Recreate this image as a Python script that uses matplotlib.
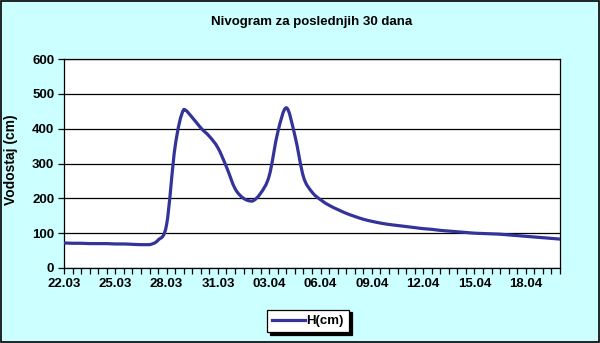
import numpy as np
import matplotlib.pyplot as plt
from matplotlib.path import Path
from matplotlib.patches import PathPatch
from matplotlib.lines import Line2D

plt.rcParams['font.family'] = ['Liberation Sans', 'DejaVu Sans']

# water level every 12 hours, 22.03 .. 20.04
levels = [72, 71, 71, 70, 70, 70, 69, 69, 68, 67,
          67, 80, 125, 350, 455, 432, 402, 378, 345, 290,
          228, 200, 192, 215, 265, 390, 460, 380, 262, 218,
          196, 180, 168, 157, 148, 140, 134, 129, 125, 122,
          119, 116, 113, 111, 108, 106, 104, 102, 100, 99,
          98, 97, 95, 93, 91, 89, 87, 85, 83]
tick_labels = ['22.03', '25.03', '28.03', '31.03', '03.04',
               '06.04', '09.04', '12.04', '15.04', '18.04']
legend_label = 'H(cm)'

line_color = '#333399'
bg_color = '#CCFFFF'


def smooth_path(x, y, t=1/6):
    # smoothed line through the points, control points kept inside each segment
    verts = [(x[0], y[0])]
    codes = [Path.MOVETO]
    n = len(x)
    for i in range(n - 1):
        x0, y0 = x[max(i - 1, 0)], y[max(i - 1, 0)]
        x1, y1 = x[i], y[i]
        x2, y2 = x[i + 1], y[i + 1]
        x3, y3 = x[min(i + 2, n - 1)], y[min(i + 2, n - 1)]
        lo, hi = min(y1, y2), max(y1, y2)
        c1 = (x1 + (x2 - x0) * t, np.clip(y1 + (y2 - y0) * t, lo, hi))
        c2 = (x2 - (x3 - x1) * t, np.clip(y2 - (y3 - y1) * t, lo, hi))
        verts += [c1, c2, (x2, y2)]
        codes += [Path.CURVE4] * 3
    return Path(verts, codes)


fig = plt.figure(figsize=(6, 3.43), dpi=100, facecolor=bg_color)
fig.patches.append(plt.Rectangle((0.0015, 0.0025), 0.997, 0.995, transform=fig.transFigure,
                                 fill=False, edgecolor='black', linewidth=1.2))
ax = fig.add_axes([64/600, 1 - 268/343, 496/600, 209/343])
ax.set_facecolor('white')

xs = np.arange(len(levels))
ax.add_patch(PathPatch(smooth_path(xs, np.array(levels, float)), facecolor='none',
                       edgecolor=line_color, linewidth=2.3, capstyle='round',
                       joinstyle='round', zorder=3, clip_on=True))

ax.set_xlim(0, len(levels) - 1)
ax.set_ylim(0, 600)
ax.set_yticks(np.arange(0, 601, 100))
ax.yaxis.grid(True, color='black', linewidth=0.9)
ax.set_axisbelow(True)
ax.set_xticks(np.arange(0, len(levels), 6))
ax.set_xticklabels(tick_labels)
ax.set_xticks(np.arange(0, len(levels)), minor=True)
ax.tick_params(axis='both', direction='out', length=4, width=0.9, color='black',
               labelsize=9.5, pad=3)
ax.tick_params(axis='x', which='minor', direction='out', length=4, width=0.9)
for lab in ax.get_xticklabels() + ax.get_yticklabels():
    lab.set_fontweight('bold')
for s in ax.spines.values():
    s.set_linewidth(0.9)

ax.set_ylabel('Vodostaj (cm)', fontsize=10, fontweight='bold')
ax.yaxis.set_label_coords(-0.093, 0.52)
fig.text(0.52, 1 - 22/343, 'Nivogram za poslednjih 30 dana', ha='center', va='center',
         fontsize=9.5, fontweight='bold')

handle = Line2D([], [], color=line_color, linewidth=2.3)
leg = fig.legend([handle], [legend_label], loc='center', bbox_to_anchor=(308/600, 1 - 321/343),
                 frameon=True, fancybox=False, edgecolor='black', facecolor='white',
                 prop={'weight': 'bold', 'size': 9.5}, handlelength=2.5, handletextpad=0.1,
                 borderpad=0.4, borderaxespad=0,
                 shadow={'color': 'black', 'alpha': 1.0, 'ox': 2, 'oy': -2})
leg.get_frame().set_linewidth(0.9)

fig.savefig('out.png', dpi=100, facecolor=bg_color)
